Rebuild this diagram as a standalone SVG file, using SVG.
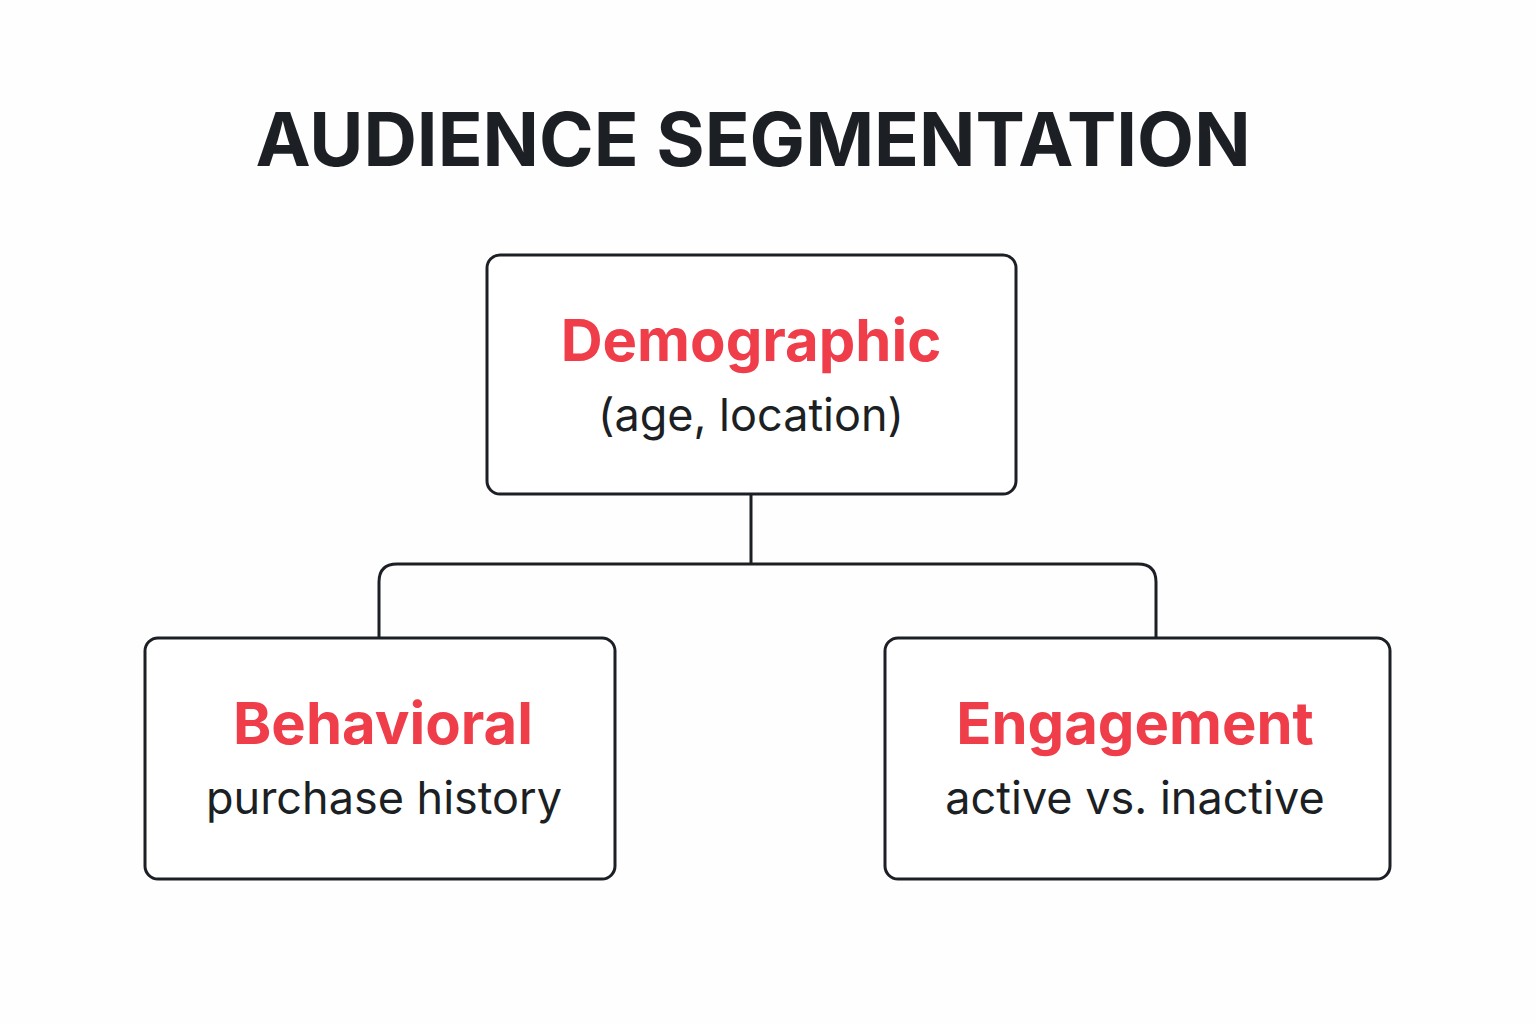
<svg xmlns="http://www.w3.org/2000/svg" width="1536" height="1024" viewBox="0 0 1536 1024">
<style>
.box{fill:#fff;stroke:#1c1f24;stroke-width:3}
.h{font-family:Inter,"Liberation Sans",sans-serif;font-weight:700;fill:#ef3e4a;font-size:58px;text-anchor:middle}
.s{font-family:Inter,"Liberation Sans",sans-serif;fill:#1c1f24;font-size:45px;text-anchor:middle}
.c{fill:none;stroke:#1c1f24;stroke-width:3}
</style>
<rect width="1536" height="1024" fill="#fefefe"/>
<text x="753" y="166" font-family="Inter,'Liberation Sans',sans-serif" font-weight="700" font-size="74" fill="#1c1f24" text-anchor="middle">AUDIENCE SEGMENTATION</text>
<g id="connectors">
<path class="c" d="M751 494 V564 M379 637 V582 Q379 564 397 564 H1138 Q1156 564 1156 582 V637"/>
</g>
<g id="demographic">
<rect class="box" x="487" y="255" width="529" height="239" rx="13"/>
<text class="h" x="751" y="361">Demographic</text>
<text class="s" x="751" y="431">(age, location)</text>
</g>
<g id="behavioral">
<rect class="box" x="145" y="638" width="470" height="241" rx="13"/>
<text class="h" x="383" y="744">Behavioral</text>
<text class="s" x="384" y="814">purchase history</text>
</g>
<g id="engagement">
<rect class="box" x="885" y="638" width="505" height="241" rx="13"/>
<text class="h" x="1135" y="744">Engagement</text>
<text class="s" x="1135" y="814">active vs. inactive</text>
</g>
</svg>
